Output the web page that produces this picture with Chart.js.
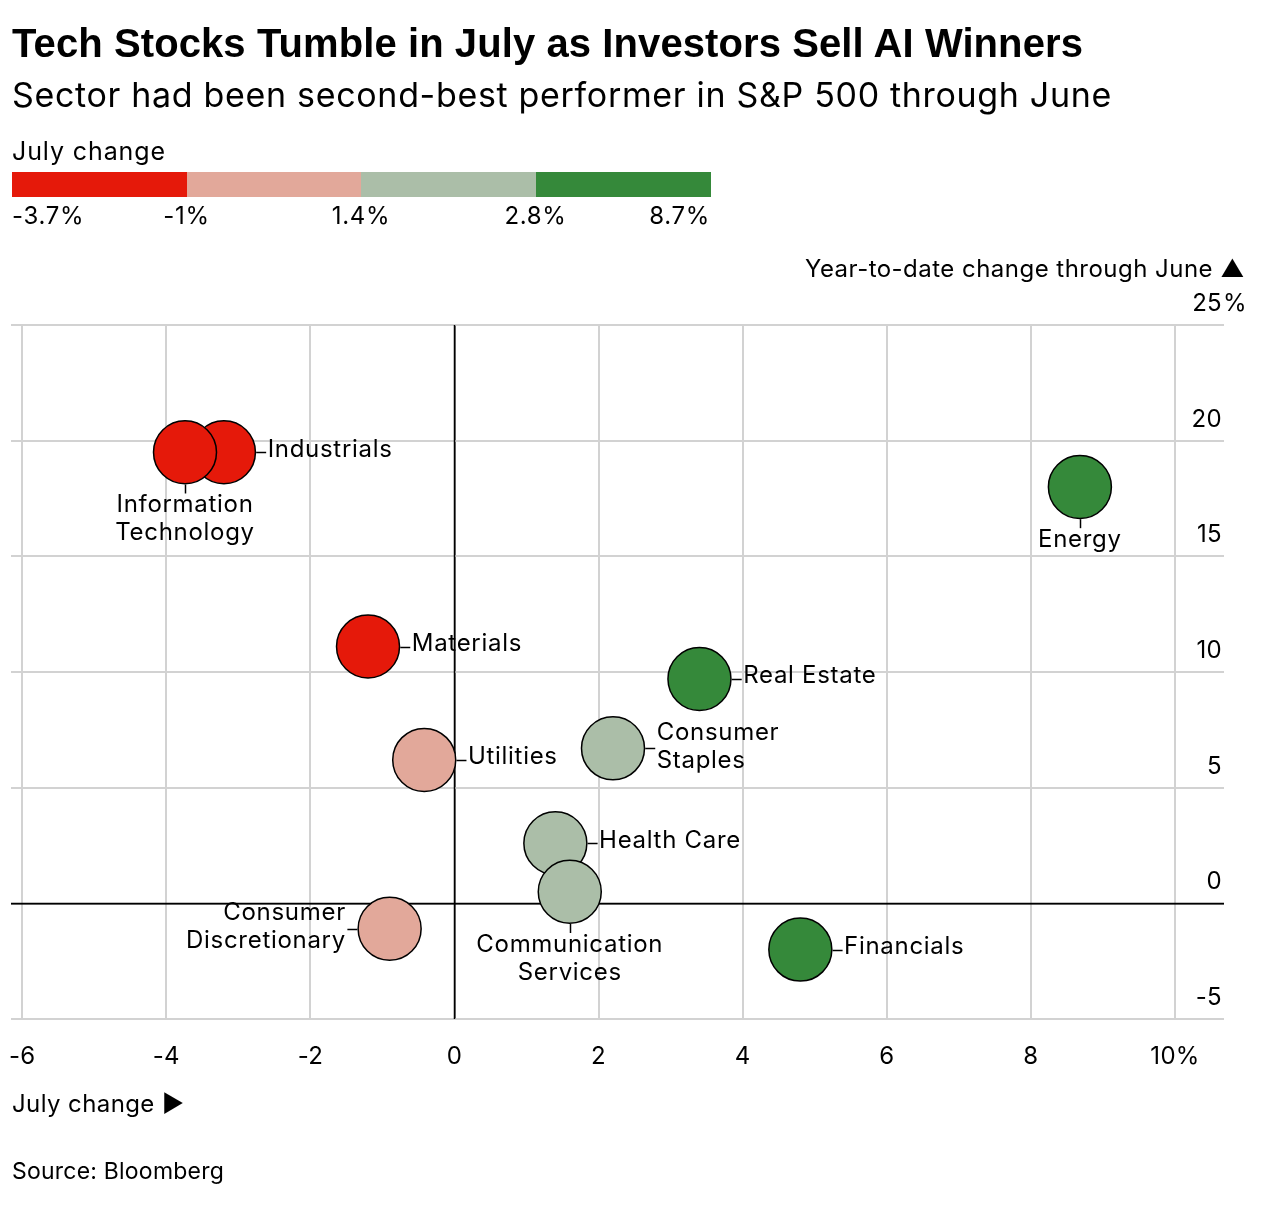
<!DOCTYPE html>
<html>
<head>
<meta charset="utf-8">
<script src="https://cdn.jsdelivr.net/npm/chart.js@4.4.1/dist/chart.umd.min.js"></script>
<style>
  html, body { margin: 0; padding: 0; background: #fff; }
  #wrap { position: relative; width: 1276px; height: 1214px; overflow: hidden; font-family: Inter, "Noto Sans", sans-serif; color: #000; }
  #chart { position: absolute; left: 0; top: 0; }
  .t { position: absolute; white-space: nowrap; line-height: 1; letter-spacing: 0.7px; }
  .bar { position: absolute; top: 172px; height: 25px; }
</style>
</head>
<body>
<div id="wrap">
  <canvas id="chart" width="1276" height="1214"></canvas>
  <div class="t" id="title" style="left:12px; font-family:'Liberation Sans', Arial, sans-serif; font-weight:700; font-size:40px; letter-spacing:0;">Tech Stocks Tumble in July as Investors Sell AI Winners</div>
  <div class="t" id="subtitle" style="left:12px; font-size:34px; letter-spacing:0;">Sector had been second-best performer in S&amp;P 500 through June</div>
  <div class="t" id="legendTitle" style="left:12px; font-size:25px;">July change</div>
  <div id="legendBar"></div>
  <div id="legendLabels"></div>
  <div class="t" id="yTitle" style="right:31px; font-size:24px;">Year-to-date change through June ▲</div>
  <div class="t" id="xTitle" style="left:12px; font-size:24px; letter-spacing:0.4px;">July change ▶</div>
  <div class="t" id="source" style="left:12px; font-size:23px; letter-spacing:0;">Source: Bloomberg</div>
</div>
<script>
// ---------------- data ----------------
const sectors = ['Industrials', 'Information Technology', 'Energy', 'Materials', 'Real Estate',
  'Consumer Staples', 'Utilities', 'Health Care', 'Communication Services',
  'Consumer Discretionary', 'Financials'];
const julyChange = [-3.2, -3.74, 8.68, -1.2, 3.4, 2.2, -0.42, 1.4, 1.6, -0.9, 4.8];
const ytdChange  = [19.5, 19.5, 18.0, 11.1, 9.7, 6.7, 6.2, 2.6, 0.5, -1.1, -2.0];

const legendBreaks = [-3.7, -1, 1.4, 2.8, 8.7];
const legendLabels = ['-3.7%', '-1%', '1.4%', '2.8%', '8.7%'];
const binColors = ['#e5190a', '#e2a89a', '#abbea8', '#35893a'];

const xTickLabelMax = 10;   // '%' shown on last x tick
const yTickLabelMax = 25;   // '%' shown on top y tick

// ---------------- styles ----------------
const labelPlacement = {
  'Industrials': { side: 'right' },
  'Information Technology': { side: 'below', wrap: true },
  'Energy': { side: 'below' },
  'Materials': { side: 'right' },
  'Real Estate': { side: 'right' },
  'Consumer Staples': { side: 'right', wrap: true },
  'Utilities': { side: 'right' },
  'Health Care': { side: 'right' },
  'Communication Services': { side: 'below', wrap: true },
  'Consumer Discretionary': { side: 'left', wrap: true },
  'Financials': { side: 'right' }
};
const BUBBLE_R = 31.5;
const FONT = 'Inter, "Noto Sans", sans-serif';
const LETTER = '0.7px';

function colorFor(v) {
  for (let i = 0; i < binColors.length; i++) {
    if (v < legendBreaks[i + 1] || i === binColors.length - 1) return binColors[i];
  }
}

// ---------------- HTML text placement ----------------
function placeBaseline(id, baseline, fs, ratio) {
  const el = document.getElementById(id);
  el.style.top = (baseline - ratio * fs) + 'px';
}
function fitWidth(id, target) {
  const el = document.getElementById(id);
  el.style.letterSpacing = '0px';
  const w = el.getBoundingClientRect().width;
  const n = el.textContent.length;
  el.style.letterSpacing = ((target - w) / n) + 'px';
}
const INTER_R = 0.8633, LIB_R = 0.8465;
placeBaseline('title', 57, 40, LIB_R);
placeBaseline('subtitle', 107.5, 34, INTER_R);
placeBaseline('legendTitle', 160.5, 25, INTER_R);
placeBaseline('yTitle', 278, 24, INTER_R);
placeBaseline('xTitle', 1113, 24, INTER_R);
placeBaseline('source', 1180, 23, INTER_R);
fitWidth('title', 1071);
fitWidth('subtitle', 1100);
fitWidth('legendTitle', 154);
fitWidth('source', 212);
fitWidth('yTitle', 440);

// legend bar + labels
(function () {
  const bar = document.getElementById('legendBar');
  const lab = document.getElementById('legendLabels');
  const left = 12, width = 698, seg = width / binColors.length;
  binColors.forEach((c, i) => {
    const d = document.createElement('div');
    d.className = 'bar';
    d.style.left = (left + i * seg) + 'px';
    d.style.width = (seg + 0.5) + 'px';
    d.style.background = c;
    bar.appendChild(d);
  });
  legendLabels.forEach((t, i) => {
    const d = document.createElement('div');
    d.className = 't';
    d.style.fontSize = '24px';
    d.textContent = t;
    d.style.top = (225 - INTER_R * 24) + 'px';
    const x = left + i * seg;
    d.style.left = x + 'px';
    if (i === 0) d.style.transform = 'none';
    else if (i === legendLabels.length - 1) d.style.transform = 'translateX(-100%)';
    else d.style.transform = 'translateX(-50%)';
    lab.appendChild(d);
  });
})();

// ---------------- plugins ----------------
const zeroLines = {
  id: 'zeroLines',
  beforeDatasetsDraw(chart) {
    const { ctx, chartArea: a, scales: { x, y } } = chart;
    ctx.save();
    ctx.strokeStyle = '#000';
    ctx.lineWidth = 1.5;
    const px = Math.round(x.getPixelForValue(0)) + 0.5;
    const py = Math.round(y.getPixelForValue(0)) + 0.5;
    ctx.beginPath();
    ctx.moveTo(px, a.top); ctx.lineTo(px, a.bottom);
    ctx.moveTo(a.left, py); ctx.lineTo(a.right, py);
    ctx.stroke();
    ctx.restore();
  }
};

const axisTickLabels = {
  id: 'axisTickLabels',
  afterDraw(chart) {
    const { ctx, chartArea: a, scales: { x, y } } = chart;
    ctx.save();
    ctx.font = '24px ' + FONT;
    ctx.letterSpacing = '0.3px';
    ctx.fillStyle = '#000';
    ctx.textBaseline = 'alphabetic';
    // y ticks: right-aligned, sitting above their grid line
    const xr = a.right - 2;
    y.ticks.forEach(t => {
      const py = y.getPixelForValue(t.value) - 14;
      ctx.textAlign = 'right';
      ctx.fillText(String(t.value), xr, py);
      if (t.value === yTickLabelMax) {
        ctx.textAlign = 'left';
        ctx.fillText('%', xr + 1, py);
      }
    });
    // x ticks: centred under their grid line
    ctx.textAlign = 'center';
    x.ticks.forEach(t => {
      const px = x.getPixelForValue(t.value);
      const label = t.value === xTickLabelMax ? t.value + '%' : String(t.value);
      ctx.fillText(label, px, a.bottom + 45);
    });
    ctx.restore();
  }
};

const sectorLabels = {
  id: 'sectorLabels',
  afterDatasetsDraw(chart) {
    const ctx = chart.ctx;
    const meta = chart.getDatasetMeta(0);
    ctx.save();
    ctx.font = '24px ' + FONT;
    ctx.letterSpacing = LETTER;
    ctx.fillStyle = '#000';
    ctx.strokeStyle = '#000';
    ctx.lineWidth = 1.5;
    ctx.textBaseline = 'alphabetic';
    meta.data.forEach((pt, i) => {
      const name = sectors[i];
      const p = labelPlacement[name] || { side: 'right' };
      const lines = p.wrap ? name.split(' ') : [name];
      const x = pt.x, y = pt.y, r = BUBBLE_R + 0.75;
      const n = lines.length;
      ctx.beginPath();
      if (p.side === 'right' || p.side === 'left') {
        const dir = p.side === 'right' ? 1 : -1;
        const ly = Math.round(y) + 0.5;
        ctx.moveTo(x + dir * r, ly);
        ctx.lineTo(x + dir * (r + 10), ly);
        ctx.stroke();
        ctx.textAlign = p.side === 'right' ? 'left' : 'right';
        const tx = x + dir * (r + 11.5);
        lines.forEach((ln, k) => ctx.fillText(ln, tx, y + 4.5 - (n - 1) * 13 + k * 28));
      } else {
        const lx = Math.round(x) + 0.5;
        ctx.moveTo(lx, y + r);
        ctx.lineTo(lx, y + r + 9);
        ctx.stroke();
        ctx.textAlign = 'center';
        lines.forEach((ln, k) => ctx.fillText(ln, x, y + r + 27.5 + k * 28));
      }
    });
    ctx.restore();
  }
};

// ---------------- chart ----------------
const gridColor = c => (c.tick && c.tick.value === 0) ? '#000' : '#d2d2d2';
const gridWidth = c => (c.tick && c.tick.value === 0) ? 1.5 : 2;

new Chart(document.getElementById('chart'), {
  type: 'bubble',
  data: {
    datasets: [{
      data: sectors.map((s, i) => ({ x: julyChange[i], y: ytdChange[i], r: BUBBLE_R })),
      backgroundColor: julyChange.map(colorFor),
      borderColor: '#000',
      borderWidth: 1.5,
      hoverBorderWidth: 1.5,
      hoverRadius: 0
    }]
  },
  options: {
    responsive: false,
    animation: false,
    events: [],
    layout: { autoPadding: false, padding: { left: 11, right: 52, top: 325, bottom: 195 } },
    plugins: { legend: { display: false }, tooltip: { enabled: false } },
    scales: {
      x: {
        type: 'linear',
        min: -6.155,
        max: 10.68,
        afterFit(s) { s.height = 0; s.paddingLeft = 0; s.paddingRight = 0; },
        border: { display: false },
        grid: { color: gridColor, lineWidth: gridWidth, drawTicks: false },
        ticks: { stepSize: 2, includeBounds: false, autoSkip: false, display: false }
      },
      y: {
        type: 'linear',
        position: 'right',
        min: -5,
        max: 25,
        afterFit(s) { s.width = 0; },
        border: { display: false },
        grid: { color: gridColor, lineWidth: gridWidth, drawTicks: false },
        ticks: { stepSize: 5, display: false }
      }
    }
  },
  plugins: [zeroLines, sectorLabels, axisTickLabels]
});
</script>
</body>
</html>
